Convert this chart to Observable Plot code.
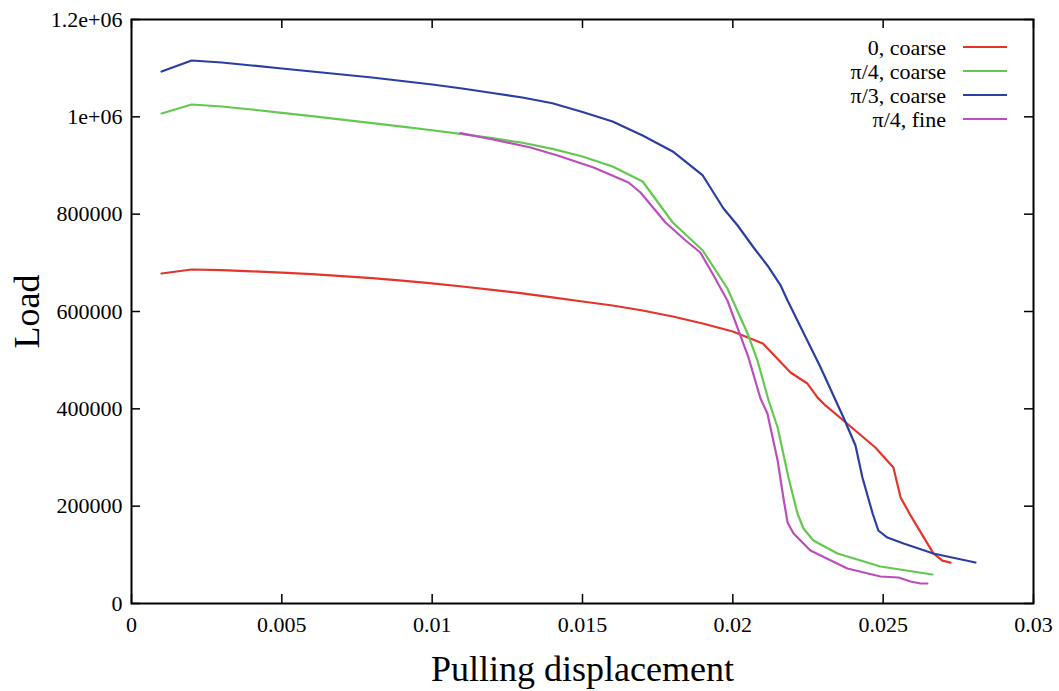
<!DOCTYPE html>
<html>
<head>
<meta charset="utf-8">
<script src="https://cdn.jsdelivr.net/npm/d3@7"></script>
<script src="https://cdn.jsdelivr.net/npm/@observablehq/plot@0.6"></script>
<style>
  html, body { margin: 0; padding: 0; background: #fff; }
  #chart { width: 1059px; height: 691px; }
</style>
</head>
<body>
<div id="chart"></div>
<script>
// ---- data ----
const seriesNames = ["0, coarse", "π/4, coarse", "π/3, coarse", "π/4, fine"];
const seriesColors = ["#e3352b", "#63c94e", "#2b3fa2", "#bd4dbd"];

const xTicks = [0, 0.005, 0.01, 0.015, 0.02, 0.025, 0.03];
const yTicks = [0, 200000, 400000, 600000, 800000, 1000000, 1200000];

const redX = [0.001, 0.002, 0.003, 0.004, 0.005, 0.006, 0.007, 0.008, 0.009, 0.010,
  0.011, 0.012, 0.013, 0.014, 0.015, 0.016, 0.017, 0.018, 0.019, 0.020, 0.021,
  0.02192, 0.02248, 0.02282, 0.02308, 0.02368, 0.02474, 0.02534, 0.02558, 0.02591,
  0.02667, 0.02697, 0.02724];
const redY = [678100, 686300, 684900, 682600, 679900, 676600, 672700, 668400, 663300, 657700,
  651400, 644600, 637200, 629200, 620600, 612300, 602100, 589700, 575300, 558900, 534200,
  474700, 452000, 423000, 407000, 376000, 320500, 279500, 218000, 181000,
  103000, 88000, 84000];

const greenX = [0.001, 0.002, 0.003, 0.004, 0.005, 0.006, 0.007, 0.008, 0.009, 0.010,
  0.011, 0.012, 0.013, 0.014, 0.015, 0.016, 0.017, 0.018, 0.019,
  0.01982, 0.02049, 0.02082, 0.02119, 0.02149, 0.02185, 0.02215, 0.02235, 0.02268,
  0.02348, 0.02491, 0.02664];
const greenY = [1006900, 1025300, 1021200, 1015100, 1008200, 1001300, 994300, 987200, 980000, 972500,
  964500, 956200, 946800, 934200, 918500, 897900, 867100, 782900, 725300,
  647300, 554800, 499300, 417100, 361600, 258900, 184900, 154100, 129500,
  102700, 76000, 59600];

const blueX = [0.001, 0.002, 0.003, 0.004, 0.005, 0.006, 0.007, 0.008, 0.009, 0.010,
  0.011, 0.012, 0.013, 0.014, 0.015, 0.016, 0.017, 0.018, 0.019,
  0.01969, 0.02016, 0.02069, 0.02115, 0.02159, 0.02182, 0.02292, 0.02368, 0.02408,
  0.02431, 0.02465, 0.02484, 0.02514, 0.02568, 0.02667, 0.02807];
const blueY = [1093000, 1115800, 1111600, 1105500, 1099300, 1093100, 1087000, 1080800, 1073600, 1066400,
  1058200, 1048900, 1039700, 1028000, 1010000, 990400, 961600, 928800, 879500,
  811600, 776700, 731500, 694600, 653500, 622600, 485000, 382200, 324700,
  258900, 184900, 150000, 135600, 123300, 102700, 84200];

const magentaX = [0.01094, 0.01194, 0.01327, 0.01417, 0.01537, 0.01653, 0.01693, 0.01776, 0.01843,
  0.01892, 0.01936, 0.01982, 0.02035, 0.02052, 0.02092, 0.02115, 0.02149, 0.02168, 0.02182,
  0.02202, 0.02258, 0.02381, 0.02491, 0.02551, 0.02591, 0.02624, 0.02647];
const magentaY = [966500, 954500, 937000, 920600, 895900, 865100, 844500, 782900, 745900,
  721200, 674000, 622600, 534200, 505500, 421200, 390400, 293800, 217800, 166400,
  143800, 108900, 71900, 55500, 53400, 45200, 41100, 41100];

// ---- build table ----
const seriesX = [redX, greenX, blueX, magentaX];
const seriesY = [redY, greenY, blueY, magentaY];
const rows = [];
seriesNames.forEach((name, i) => {
  seriesX[i].forEach((x, j) => rows.push({series: name, x, y: seriesY[i][j]}));
});

// ---- layout ----
const W = 1059, H = 691;
const mL = 131, mR = 26, mT = 19, mB = 88;
const innerW = W - mL - mR, innerH = H - mT - mB;
const tickLen = 9;
const font = "'Liberation Serif', 'DejaVu Serif', serif";

const fmtX = d => d === 0 ? "0" : String(d);
const fmtY = d => d === 1200000 ? "1.2e+06" : d === 1000000 ? "1e+06" : String(d);

const chart = Plot.plot({
  width: W, height: H,
  marginLeft: mL, marginRight: mR, marginTop: mT, marginBottom: mB,
  style: {fontFamily: font, background: "white", color: "black", overflow: "visible"},
  x: {domain: [0, 0.03]},
  y: {domain: [0, 1200000]},
  color: {domain: seriesNames, range: seriesColors},
  marks: [
    Plot.axisX(xTicks, {tickSize: 0, tickPadding: 13, fontSize: 22, fontFamily: font, tickFormat: fmtX, label: null}),
    Plot.axisY(yTicks, {tickSize: 0, tickPadding: 9, fontSize: 22, fontFamily: font, tickFormat: fmtY, label: null}),
    Plot.tickX(xTicks, {x: d => d, insetTop: innerH - tickLen, stroke: "black", strokeWidth: 1.5}),
    Plot.tickX(xTicks, {x: d => d, insetBottom: innerH - tickLen, stroke: "black", strokeWidth: 1.5}),
    Plot.tickY(yTicks, {y: d => d, insetRight: innerW - tickLen, stroke: "black", strokeWidth: 1.5}),
    Plot.tickY(yTicks, {y: d => d, insetLeft: innerW - tickLen, stroke: "black", strokeWidth: 1.5}),
    Plot.line(rows, {x: "x", y: "y", z: "series", stroke: "series", strokeWidth: 2.2,
      strokeLinejoin: "round", curve: "linear"}),
    Plot.frame({stroke: "black", strokeWidth: 2}),
    Plot.text(["Pulling displacement"], {frameAnchor: "bottom", lineAnchor: "middle", textAnchor: "middle",
      dy: 66, fontSize: 36, fontFamily: font, fill: "black"}),
    Plot.text(["Load"], {frameAnchor: "left", lineAnchor: "middle", textAnchor: "middle",
      dx: -104, rotate: -90, fontSize: 36, fontFamily: font, fill: "black"})
  ]
});

// ---- legend (inside, top-right) ----
const svg = d3.select(chart);
const lg = svg.append("g").attr("font-family", font).attr("font-size", 22);
seriesNames.forEach((name, i) => {
  const cy = mT + 28 + i * 24;
  const textRight = mL + innerW - 87;
  lg.append("text")
    .attr("x", textRight).attr("y", cy).attr("dy", "0.35em")
    .attr("text-anchor", "end").attr("fill", "black").text(name);
  lg.append("line")
    .attr("x1", textRight + 17).attr("x2", textRight + 61)
    .attr("y1", cy).attr("y2", cy)
    .attr("stroke", seriesColors[i]).attr("stroke-width", 2.2);
});

document.getElementById("chart").appendChild(chart);
</script>
</body>
</html>
